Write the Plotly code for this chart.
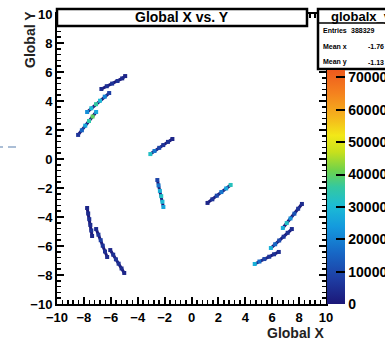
import plotly.graph_objects as go

# ---- data (segments of the 2D histogram) ----
seg_names = ["A", "B", "C", "D", "E", "F", "G", "H", "I", "J", "K", "L"]
seg_x = [
    [-6.70, -6.30, -5.90, -5.50, -5.15, -4.93],
    [-7.76, -7.45, -7.10, -6.80, -6.45, -6.12],
    [-8.43, -8.15, -7.90, -7.62, -7.35, -7.09],
    [-3.06, -2.75, -2.40, -2.10, -1.75, -1.42],
    [-2.54, -2.45, -2.35, -2.25, -2.16, -2.09],
    [-7.76, -7.68, -7.60, -7.52, -7.45, -7.39],
    [-7.09, -6.92, -6.75, -6.60, -6.43, -6.27],
    [-6.04, -5.82, -5.62, -5.42, -5.20, -5.00],
    [1.19, 1.55, 1.88, 2.22, 2.58, 2.91],
    [6.79, 7.08, 7.36, 7.65, 7.93, 8.21],
    [5.90, 6.22, 6.52, 6.85, 7.15, 7.46],
    [4.70, 5.05, 5.42, 5.78, 6.14, 6.49],
]
seg_y = [
    [4.83, 5.02, 5.20, 5.38, 5.56, 5.72],
    [3.24, 3.50, 3.78, 4.02, 4.30, 4.55],
    [1.66, 1.98, 2.30, 2.62, 2.93, 3.24],
    [0.34, 0.55, 0.77, 0.96, 1.18, 1.38],
    [-1.45, -1.82, -2.20, -2.56, -2.95, -3.31],
    [-3.38, -3.76, -4.15, -4.55, -4.93, -5.31],
    [-4.83, -5.22, -5.60, -5.98, -6.38, -6.76],
    [-6.28, -6.60, -6.92, -7.22, -7.55, -7.86],
    [-3.03, -2.78, -2.53, -2.28, -2.03, -1.79],
    [-4.76, -4.42, -4.10, -3.77, -3.43, -3.10],
    [-6.14, -5.88, -5.62, -5.36, -5.09, -4.83],
    [-7.24, -7.07, -6.90, -6.74, -6.57, -6.41],
]
seg_counts = [
    [4000, 5000, 6000, 5000, 4000, 3000],
    [22000, 30000, 36000, 30000, 20000, 8000],
    [6000, 15000, 26000, 35000, 40000, 26000],
    [32000, 18000, 9000, 6000, 5000, 3000],
    [9000, 18000, 28000, 32000, 30000, 26000],
    [3000, 4000, 5000, 4000, 5000, 3000],
    [4000, 6000, 8000, 6000, 5000, 4000],
    [3000, 5000, 6000, 5000, 4000, 3000],
    [3000, 6000, 10000, 18000, 26000, 33000],
    [28000, 32000, 22000, 12000, 6000, 4000],
    [28000, 16000, 10000, 6000, 5000, 4000],
    [28000, 16000, 9000, 6000, 5000, 4000],
]

title_text = "Global X vs. Y"
stats_name = "globalx_y"
stats_rows = [("Entries", "388329"), ("Mean x", "-1.76"), ("Mean y", "-1.13")]
cbar_ticks = [0, 10000, 20000, 30000, 40000, 50000, 60000, 70000]

# ---- figure geometry (window pixels) ----
W, H = 385, 346
PL, PR, PT, PB = 57, 326, 14, 304  # plot frame


def px(xp):
    return (xp - PL) / (PR - PL)


def py(yp):
    return (PB - yp) / (PB - PT)


FONT = "Liberation Sans, Arial, Helvetica, sans-serif"

colorscale = [
    [0.00, "#1c1778"],
    [0.11, "#1e3ea4"],
    [0.22, "#1768c6"],
    [0.33, "#149ade"],
    [0.42, "#1cbcd4"],
    [0.50, "#34c8a0"],
    [0.57, "#6ed24c"],
    [0.65, "#c8e01c"],
    [0.72, "#f2e818"],
    [0.80, "#f5b41c"],
    [0.90, "#f5821e"],
    [1.00, "#ee5a1e"],
]
CMAX = (305 - 70) / 32.5 * 10000

fig = go.Figure()
for i, name in enumerate(seg_names):
    fig.add_trace(go.Scatter(
        x=seg_x[i], y=seg_y[i], mode="lines",
        line=dict(color="#1c1778", width=3),
        hoverinfo="skip", showlegend=False,
    ))
for i, name in enumerate(seg_names):
    fig.add_trace(go.Scatter(
        x=seg_x[i], y=seg_y[i], mode="markers",
        marker=dict(
            color=seg_counts[i], colorscale=colorscale, cmin=0, cmax=CMAX,
            size=4, symbol="square", line=dict(width=0),
            showscale=(i == 0),
            colorbar=dict(
                x=px(327), xanchor="left", xpad=0,
                y=0, yanchor="bottom", ypad=0,
                len=(PB - 70) / (PB - PT), lenmode="fraction",
                thickness=18, outlinewidth=0,
                tickmode="array", tickvals=cbar_ticks,
                ticktext=[str(v) for v in cbar_ticks],
                ticks="inside", ticklen=9, tickwidth=2, tickcolor="black",
                ticklabeloverflow="allow",
                tickfont=dict(family=FONT, size=14, color="black", weight="bold"),
            ),
        ),
        name=name, hoverinfo="skip", showlegend=False,
    ))

axis_common = dict(
    range=[-10, 10], dtick=2, tick0=-10,
    ticks="inside", ticklen=7, tickwidth=2, tickcolor="black",
    showline=True, linewidth=2, linecolor="black", mirror="ticks",
    showgrid=False, zeroline=False, ticklabeloverflow="allow",
    minor=dict(dtick=0.4, tick0=-10, ticks="inside", ticklen=4, tickwidth=1.5,
               tickcolor="black", showgrid=False),
    tickfont=dict(family=FONT, size=13, color="black", weight="bold"),
)
fig.update_xaxes(**axis_common)
fig.update_yaxes(**axis_common)

shapes = [
    # title box
    dict(type="rect", xref="paper", yref="paper", layer="above",
         x0=px(57), x1=px(307), y0=py(26), y1=py(9),
         line=dict(color="black", width=2.5), fillcolor="white"),
    # stats box
    dict(type="rect", xref="paper", yref="paper", layer="above",
         x0=px(318), x1=px(400), y0=py(69), y1=py(9),
         line=dict(color="black", width=2.5), fillcolor="white"),
    dict(type="line", xref="paper", yref="paper", layer="above",
         x0=px(318), x1=px(400), y0=py(23), y1=py(23),
         line=dict(color="black", width=1.5)),
    # stray dashed line left of the plot
    dict(type="line", xref="paper", yref="paper", layer="above",
         x0=px(0), x1=px(3), y0=py(147), y1=py(147),
         line=dict(color="#8fa8c8", width=1.5)),
    dict(type="line", xref="paper", yref="paper", layer="above",
         x0=px(8), x1=px(16), y0=py(147), y1=py(147),
         line=dict(color="#8fa8c8", width=1.5)),
]

annotations = [
    dict(text=title_text, xref="paper", yref="paper", x=px(182), y=py(17.5),
         xanchor="center", yanchor="middle", showarrow=False,
         font=dict(family=FONT, size=14, color="black", weight="bold")),
    dict(text=stats_name, xref="paper", yref="paper", x=px(329), y=py(16),
         xanchor="left", yanchor="middle", showarrow=False,
         font=dict(family=FONT, size=13, color="black", weight="bold")),
    dict(text="Global Y", xref="paper", yref="paper", x=px(30), y=py(40),
         xanchor="center", yanchor="middle", showarrow=False, textangle=-90,
         font=dict(family=FONT, size=14, color="#222222", weight="bold")),
    dict(text="Global X", xref="paper", yref="paper", x=px(326), y=py(333),
         xanchor="right", yanchor="middle", showarrow=False,
         font=dict(family=FONT, size=14, color="#222222", weight="bold")),
]
row_y = [30, 46, 62]
val_x = [349, 366, 366]
for (lab, val), yy, vx in zip(stats_rows, row_y, val_x):
    annotations.append(dict(text=lab, xref="paper", yref="paper", x=px(321), y=py(yy),
                            xanchor="left", yanchor="middle", showarrow=False,
                            font=dict(family=FONT, size=7, color="black", weight="bold")))
    annotations.append(dict(text=val, xref="paper", yref="paper", x=px(vx), y=py(yy),
                            xanchor="left", yanchor="middle", showarrow=False,
                            font=dict(family=FONT, size=7, color="black", weight="bold")))

fig.update_layout(
    width=W, height=H, autosize=False,
    margin=dict(l=PL, r=W - PR, t=PT, b=H - PB, pad=0, autoexpand=False),
    paper_bgcolor="white", plot_bgcolor="white",
    shapes=shapes, annotations=annotations,
    font=dict(family=FONT, color="black"),
)

fig.write_html(
    "out.html",
    config={"displayModeBar": False, "staticPlot": True},
    post_script="document.body.style.margin='0';document.body.style.overflow='hidden';",
)
